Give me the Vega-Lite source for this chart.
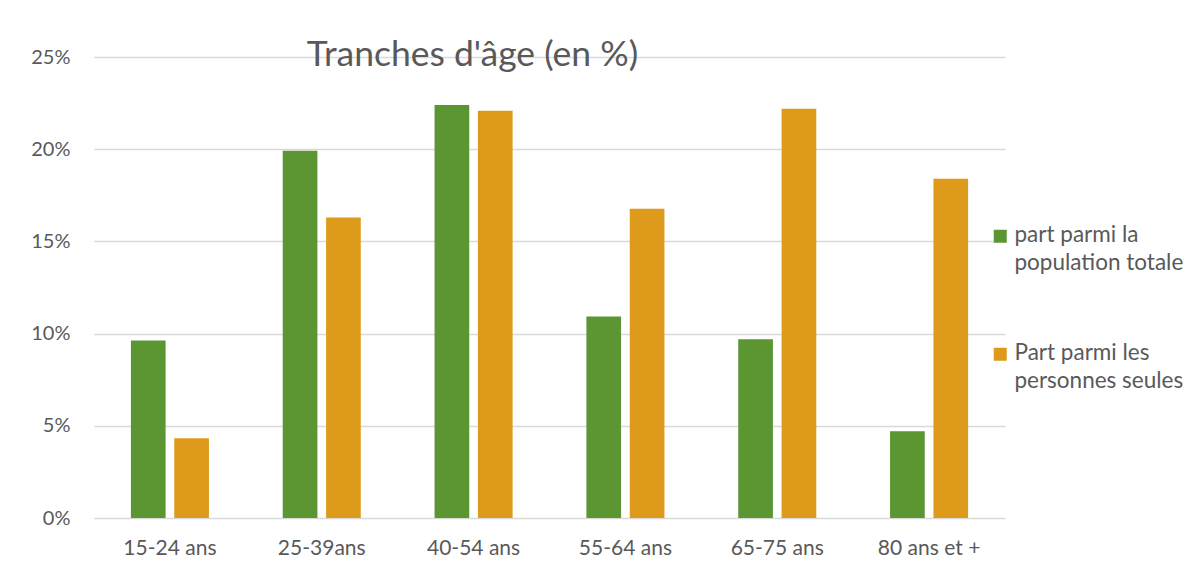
{
  "$schema": "https://vega.github.io/schema/vega-lite/v6.json",
  "width": 911,
  "height": 461,
  "autosize": {"type": "none"},
  "padding": {"left": 94, "top": 57, "right": 195, "bottom": 64},
  "background": "white",
  "config": {
    "font": "Lato",
    "view": {"stroke": null}
  },
  "title": {
    "text": "Tranches d'âge (en %)",
    "anchor": "middle",
    "frame": "group",
    "dx": -77,
    "dy": 54,
    "offset": 0,
    "baseline": "alphabetic",
    "fontSize": 35.5,
    "fontWeight": "normal",
    "color": "#595959",
    "font": "Lato"
  },
  "data": {
    "values": [
      {"age": "15-24 ans", "serie": "part parmi la population totale", "pct": 9.63},
      {"age": "15-24 ans", "serie": "Part parmi les personnes seules", "pct": 4.33},
      {"age": "25-39ans", "serie": "part parmi la population totale", "pct": 19.91},
      {"age": "25-39ans", "serie": "Part parmi les personnes seules", "pct": 16.29},
      {"age": "40-54 ans", "serie": "part parmi la population totale", "pct": 22.4},
      {"age": "40-54 ans", "serie": "Part parmi les personnes seules", "pct": 22.08},
      {"age": "55-64 ans", "serie": "part parmi la population totale", "pct": 10.93},
      {"age": "55-64 ans", "serie": "Part parmi les personnes seules", "pct": 16.77},
      {"age": "65-75 ans", "serie": "part parmi la population totale", "pct": 9.69},
      {"age": "65-75 ans", "serie": "Part parmi les personnes seules", "pct": 22.19},
      {"age": "80 ans et +", "serie": "part parmi la population totale", "pct": 4.71},
      {"age": "80 ans et +", "serie": "Part parmi les personnes seules", "pct": 18.4}
    ]
  },
  "mark": {"type": "bar"},
  "encoding": {
    "x": {
      "field": "age",
      "type": "nominal",
      "sort": null,
      "scale": {"paddingInner": 0.486, "paddingOuter": 0.243},
      "axis": {
        "title": null,
        "labelAngle": 0,
        "labelFontSize": 21,
        "labelColor": "#595959",
        "labelPadding": 19,
        "ticks": false,
        "domain": false,
        "grid": false
      }
    },
    "xOffset": {
      "field": "serie",
      "type": "nominal",
      "sort": ["part parmi la population totale", "Part parmi les personnes seules"],
      "scale": {"paddingInner": 0.2, "paddingOuter": 0}
    },
    "y": {
      "field": "pct",
      "type": "quantitative",
      "scale": {"domain": [0, 25], "nice": false},
      "axis": {
        "title": null,
        "values": [0, 5, 10, 15, 20, 25],
        "labelExpr": "datum.value + '%'",
        "labelFontSize": 20,
        "labelColor": "#595959",
        "labelPadding": 24,
        "ticks": false,
        "domain": false,
        "gridColor": "#d9d9d9",
        "gridWidth": 1.5
      }
    },
    "color": {
      "field": "serie",
      "type": "nominal",
      "sort": ["part parmi la population totale", "Part parmi les personnes seules"],
      "scale": {"range": ["#5b9632", "#de9b1b"]},
      "legend": {
        "title": null,
        "orient": "none",
        "legendX": 895,
        "legendY": 168,
        "padding": 0,
        "symbolType": "square",
        "symbolSize": 169,
        "symbolStrokeWidth": 0,
        "labelFontSize": 22.5,
        "labelColor": "#595959",
        "labelOffset": 3,
        "labelLimit": 250,
        "labelBaseline": "alphabetic",
        "rowPadding": 67,
        "labelExpr": "datum.label == 'part parmi la population totale' ? ['part parmi la', 'population totale'] : ['Part parmi les', 'personnes seules']",
        "encode": {
          "labels": {"update": {"lineHeight": {"value": 28}, "dy": {"value": 6}}}
        }
      }
    }
  }
}
